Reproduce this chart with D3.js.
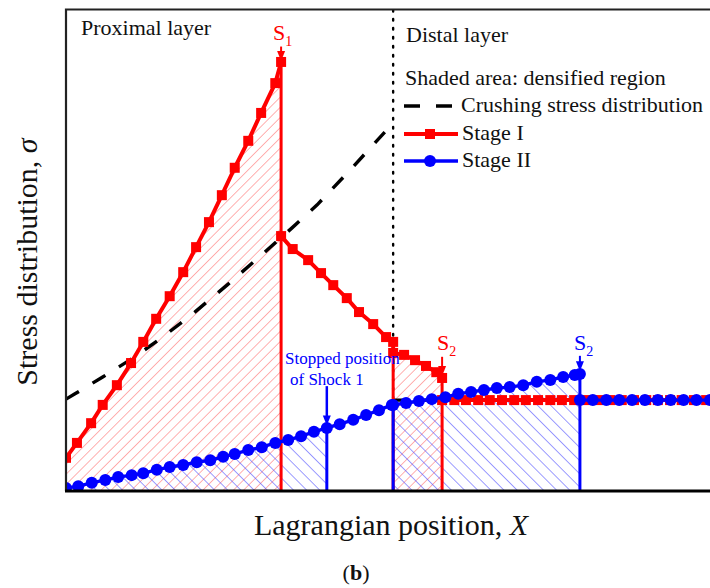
<!DOCTYPE html>
<html>
<head>
<meta charset="utf-8">
<script src="https://cdn.jsdelivr.net/npm/d3@7"></script>
<style>
  html, body { margin: 0; padding: 0; background: #fff; }
  svg { display: block; }
</style>
</head>
<body>
<svg id="chart" width="710" height="588" font-family="'Liberation Serif', 'Times New Roman', Times, 'DejaVu Serif', serif"></svg>
<script>
// Stage I stress profile (red), proximal layer rising branch up to shock S1
const stage1RiseX = [0, 1.7, 3.9, 5.7, 7.9, 10.1, 12.0, 14.0, 16.1, 18.2, 20.2, 22.2, 24.2, 26.2, 28.3, 30.3, 32.5, 33.4];
const stage1RiseY = [6.9, 10.0, 14.1, 17.9, 22.0, 26.6, 31.0, 35.8, 40.5, 45.5, 50.7, 55.9, 61.5, 67.2, 72.8, 78.6, 84.8, 89.2];
// Stage I behind S1, falling toward the interface
const stage1FallX = [33.4, 35.2, 37.6, 39.6, 41.5, 43.6, 45.5, 47.7, 49.7, 50.8];
const stage1FallY = [53.0, 50.3, 48.0, 45.3, 42.8, 40.1, 37.2, 34.7, 32.0, 31.0];
// Stage I in the distal layer up to shock S2
const stage1DistalX = [50.8, 52.5, 54.2, 55.9, 57.5, 58.4];
const stage1DistalY = [28.7, 28.3, 27.2, 26.0, 24.7, 23.5];
// Stage I ahead of S2 (plateau)
const stage1PlateauX = [58.4, 60.3, 62.1, 64.0, 65.8, 67.7, 69.6, 71.4, 73.3, 75.2, 77.0, 78.9, 80.7, 82.6, 84.5, 86.3, 88.2, 90.1, 91.9, 93.8, 95.6, 97.5, 99.4];
const stage1PlateauY = [18.9, 18.9, 18.9, 18.9, 18.9, 18.9, 18.9, 18.9, 18.9, 18.9, 18.9, 18.9, 18.9, 18.9, 18.9, 18.9, 18.9, 18.9, 18.9, 18.9, 18.9, 18.9, 18.9];

// Stage II stress profile (blue)
const stage2ProxX = [0, 1.9, 4.0, 6.1, 8.1, 10.2, 12.0, 14.1, 16.1, 18.2, 20.3, 22.4, 24.4, 26.2, 28.3, 30.4, 32.5, 34.5, 36.5, 38.5, 40.5, 42.5, 44.6, 46.6, 48.6, 50.6];
const stage2ProxY = [0.6, 1.0, 1.7, 2.3, 2.9, 3.3, 3.7, 4.4, 5.0, 5.4, 6.0, 6.4, 7.1, 7.7, 8.5, 9.1, 10.0, 10.6, 11.4, 12.3, 13.1, 13.9, 14.8, 15.8, 16.8, 17.9];
const stage2DistalX = [50.8, 52.8, 54.8, 56.8, 58.9, 60.9, 62.9, 64.9, 66.9, 68.9, 71.0, 73.1, 75.2, 77.2, 79.0, 79.8];
const stage2DistalY = [17.9, 18.3, 18.7, 19.1, 19.5, 20.2, 20.6, 21.0, 21.4, 21.6, 22.0, 22.7, 23.1, 23.7, 24.1, 24.3];
const stage2PlateauX = [79.8, 81.8, 83.9, 85.9, 87.9, 89.9, 91.9, 93.9, 95.9, 97.9, 100.0];
const stage2PlateauY = [18.9, 18.9, 18.9, 18.9, 18.9, 18.9, 18.9, 18.9, 18.9, 18.9, 18.9];

// Crushing stress distribution (black dashed)
const crushProxX = [0, 1.4, 5.7, 10.7, 15.4, 20.0, 25.0, 29.8, 35.1, 39.0, 44.1, 49.5];
const crushProxY = [19.1, 20.2, 23.7, 27.9, 32.4, 37.2, 42.8, 48.4, 54.7, 59.5, 66.7, 74.6];
const crushDistalX = [50.8, 100];
const crushDistalY = [18.9, 18.9];

// Key positions along X
const shock1X = 33.4;
const stoppedX = 40.5;
const interfaceX = 50.8;
const shock2RedX = 58.4;
const shock2BlueX = 79.8;

// Legend entries
const legendLabels = ["Crushing stress distribution", "Stage I", "Stage II"];

const zip = (xs, ys) => xs.map((v, i) => [v, ys[i]]);

const svg = d3.select("#chart");
const x = d3.scaleLinear().domain([0, 100]).range([66, 710]);
const y = d3.scaleLinear().domain([0, 100]).range([491, 10]);

const RED = "#ff0000", BLUE = "#0000ff";

const defs = svg.append("defs");
defs.append("clipPath").attr("id", "plotClip")
  .append("rect").attr("x", 66).attr("y", 10).attr("width", 646).attr("height", 481);

function hatch(id, color, spacing, angle) {
  const p = defs.append("pattern").attr("id", id)
    .attr("patternUnits", "userSpaceOnUse")
    .attr("width", spacing).attr("height", spacing)
    .attr("patternTransform", `rotate(${angle})`);
  p.append("line").attr("x1", 0).attr("y1", 0).attr("x2", 0).attr("y2", spacing)
    .attr("stroke", color).attr("stroke-width", 1.1);
}
hatch("hatchRed", "#ff6f6f", 7.2, 45);
hatch("hatchBlue", "#4a4aff", 9.3, -45);

const plot = svg.append("g").attr("clip-path", "url(#plotClip)");
const line = d3.line().x(d => x(d[0])).y(d => y(d[1]));

// Densified regions (shaded)
const area = pts => line(pts) + "Z";
const redRegion1 = [[0, 0], ...zip(stage1RiseX, stage1RiseY), [shock1X, 0]];
const redRegion2 = [[interfaceX, 0], ...zip(stage1DistalX, stage1DistalY), [shock2RedX, 0]];
const blueProx = zip(stage2ProxX, stage2ProxY).filter(d => d[0] <= stoppedX);
const blueRegion1 = [[0, 0], ...blueProx, [stoppedX, 0]];
const blueRegion2 = [[interfaceX, 0], ...zip(stage2DistalX, stage2DistalY), [shock2BlueX, 0]];

[[redRegion1, "hatchRed"], [redRegion2, "hatchRed"], [blueRegion1, "hatchBlue"], [blueRegion2, "hatchBlue"]]
  .forEach(([pts, id]) => plot.append("path").attr("d", area(pts)).attr("fill", `url(#${id})`));

// Interface between proximal and distal layers
plot.append("line")
  .attr("x1", x(interfaceX)).attr("x2", x(interfaceX)).attr("y1", y(100)).attr("y2", y(0))
  .attr("stroke", "#000").attr("stroke-width", 2.4).attr("stroke-dasharray", "1.6,7.4")
  .attr("stroke-linecap", "round");

// Crushing stress
[zip(crushProxX, crushProxY), zip(crushDistalX, crushDistalY)].forEach(pts =>
  plot.append("path").attr("d", line(pts)).attr("fill", "none")
    .attr("stroke", "#000").attr("stroke-width", 3.4).attr("stroke-dasharray", "15,16"));

// Stage I
const stage1Segments = [
  zip(stage1RiseX, stage1RiseY),
  zip(stage1FallX, stage1FallY),
  zip(stage1DistalX, stage1DistalY),
  zip(stage1PlateauX, stage1PlateauY)
];
[...stage1Segments, [[interfaceX, stage1FallY[stage1FallY.length - 1]], [interfaceX, stage1DistalY[0]]]]
  .forEach(pts => plot.append("path").attr("d", line(pts)).attr("fill", "none")
    .attr("stroke", RED).attr("stroke-width", 4).attr("stroke-linejoin", "round"));

plot.append("g").selectAll("rect").data(stage1Segments.flat()).join("rect")
  .attr("x", d => x(d[0]) - 5).attr("y", d => y(d[1]) - 5)
  .attr("width", 10).attr("height", 10).attr("fill", RED);

// Stage I shock fronts (vertical drops)
[[shock1X, stage1RiseY[stage1RiseY.length - 1]], [interfaceX, stage1DistalY[0]], [shock2RedX, stage1DistalY[stage1DistalY.length - 1]]]
  .forEach(([sx, top]) => plot.append("line")
    .attr("x1", x(sx)).attr("x2", x(sx)).attr("y1", y(top)).attr("y2", y(0))
    .attr("stroke", RED).attr("stroke-width", 3));

// Stage II
[zip(stage2ProxX, stage2ProxY), [[stage2ProxX[stage2ProxX.length - 1], stage2ProxY[stage2ProxY.length - 1]], [interfaceX, stage2DistalY[0]]],
 zip(stage2DistalX, stage2DistalY), zip(stage2PlateauX, stage2PlateauY)]
  .forEach(pts => plot.append("path").attr("d", line(pts)).attr("fill", "none")
    .attr("stroke", BLUE).attr("stroke-width", 3.4));

const stage2Marks = [...zip(stage2ProxX, stage2ProxY), ...zip(stage2DistalX, stage2DistalY), ...zip(stage2PlateauX, stage2PlateauY)];
plot.append("g").selectAll("circle").data(stage2Marks).join("circle")
  .attr("cx", d => x(d[0])).attr("cy", d => y(d[1])).attr("r", 6).attr("fill", BLUE);

// Stage II verticals: stopped shock 1, interface and shock S2
[[stoppedX, 13.1], [interfaceX, stage2DistalY[0]], [shock2BlueX, stage2DistalY[stage2DistalY.length - 1]]]
  .forEach(([sx, top]) => plot.append("line")
    .attr("x1", x(sx)).attr("x2", x(sx)).attr("y1", y(top)).attr("y2", y(0))
    .attr("stroke", BLUE).attr("stroke-width", 3));

// Arrows pointing at shock positions
function arrow(xv, yFrom, yTo, color, w) {
  const px = x(xv), p0 = y(yFrom), p1 = y(yTo);
  svg.append("line").attr("x1", px).attr("x2", px).attr("y1", p0).attr("y2", p1 - 8)
    .attr("stroke", color).attr("stroke-width", w);
  svg.append("path").attr("d", `M${px - 4},${p1 - 10}L${px + 4},${p1 - 10}L${px},${p1}Z`).attr("fill", color);
}
arrow(shock1X, 92.4, 89.4, RED, 2);
arrow(shock2RedX, 27.9, 23.9, RED, 2);
arrow(shock2BlueX, 28.1, 24.9, BLUE, 2);
arrow(stoppedX, 21.8, 13.6, BLUE, 2.5);

// Shock labels
function shockLabel(px, py, sub, color) {
  const t = svg.append("text").attr("x", px).attr("y", py).attr("fill", color).attr("font-size", 22);
  t.append("tspan").text("S");
  t.append("tspan").attr("dy", 6).attr("font-size", 14).text(sub);
}
shockLabel(x(shock1X) - 8, 40, "1", RED);
shockLabel(x(shock2RedX) - 5, 350, "2", RED);
shockLabel(x(shock2BlueX) - 6, 350, "2", BLUE);

// Annotations
svg.append("text").attr("x", 285).attr("y", 364).attr("fill", BLUE).attr("font-size", 17).text("Stopped position");
svg.append("text").attr("x", 290).attr("y", 385).attr("fill", BLUE).attr("font-size", 17).text("of Shock 1");
svg.append("text").attr("x", 81).attr("y", 35).attr("font-size", 22).attr("fill", "#111").text("Proximal layer");
svg.append("text").attr("x", 406).attr("y", 42).attr("font-size", 22).attr("fill", "#111").text("Distal layer");
svg.append("text").attr("x", 405).attr("y", 85).attr("font-size", 22).attr("fill", "#111").text("Shaded area: densified region");

// Legend
const lg = svg.append("g");
const legendY = [106, 134, 161];
lg.append("line").attr("x1", 404).attr("x2", 452).attr("y1", legendY[0]).attr("y2", legendY[0])
  .attr("stroke", "#000").attr("stroke-width", 3.4).attr("stroke-dasharray", "16,16");
lg.append("line").attr("x1", 404).attr("x2", 458).attr("y1", legendY[1]).attr("y2", legendY[1])
  .attr("stroke", RED).attr("stroke-width", 4);
lg.append("rect").attr("x", 425).attr("y", legendY[1] - 5).attr("width", 10).attr("height", 10).attr("fill", RED);
lg.append("line").attr("x1", 404).attr("x2", 458).attr("y1", legendY[2]).attr("y2", legendY[2])
  .attr("stroke", BLUE).attr("stroke-width", 3.4);
lg.append("circle").attr("cx", 430).attr("cy", legendY[2]).attr("r", 6).attr("fill", BLUE);
lg.selectAll("text").data(legendLabels).join("text")
  .attr("x", (d, i) => i === 0 ? 461 : 462).attr("y", (d, i) => legendY[i] + 6)
  .attr("font-size", 22).attr("fill", "#111").text(d => d);

// Frame
svg.append("path").attr("d", `M66,491V9.5H712`).attr("fill", "none").attr("stroke", "#222").attr("stroke-width", 2.2);
svg.append("line").attr("x1", 65).attr("x2", 712).attr("y1", 491).attr("y2", 491).attr("stroke", "#000").attr("stroke-width", 3);

// Axis titles
const xt = svg.append("text").attr("x", 391).attr("y", 535).attr("text-anchor", "middle").attr("font-size", 30).attr("fill", "#111");
xt.append("tspan").text("Lagrangian position, ");
xt.append("tspan").attr("font-style", "italic").text("X");
const yt = svg.append("text").attr("transform", "translate(37,262) rotate(-90)").attr("text-anchor", "middle").attr("font-size", 30).attr("fill", "#111");
yt.append("tspan").text("Stress distribution, ");
yt.append("tspan").attr("font-style", "italic").text("σ");

const cap = svg.append("text").attr("x", 356).attr("y", 580).attr("text-anchor", "middle").attr("font-size", 22).attr("fill", "#111");
cap.append("tspan").text("(");
cap.append("tspan").attr("font-weight", "bold").text("b");
cap.append("tspan").text(")");
</script>
</body>
</html>
